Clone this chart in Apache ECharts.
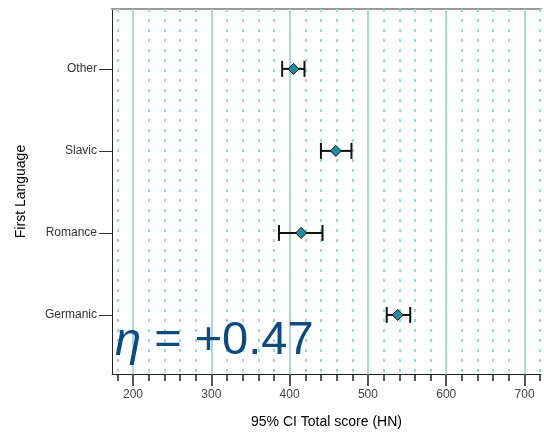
<!DOCTYPE html>
<html>
<head>
<meta charset="utf-8">
<script src="https://cdn.jsdelivr.net/npm/echarts@6/dist/echarts.min.js"></script>
<style>
  html, body { margin: 0; padding: 0; background: #fff; }
  #chart { width: 544px; height: 436px; }
</style>
</head>
<body>
<div id="chart"></div>
<script>
// Groups, bottom to top on the vertical axis
const categories = ['Germanic', 'Romance', 'Slavic', 'Other'];
// Mean total score and 95% confidence limits per group
const means = [538, 414.7, 459, 405];
const lower = [524, 386.4, 440, 390.5];
const upper = [554, 442, 479, 419];
// Axis ticks
const majorTicks = [200, 300, 400, 500, 600, 700];
const minorTicks = [180, 220, 240, 260, 280, 320, 340, 360, 380, 420, 440, 460, 480,
  520, 540, 560, 580, 620, 640, 660, 680, 720];
const effectLabel = '= +0.47';

const X_MIN = 173.2, X_MAX = 721;
const FONT = '"Liberation Sans", Arial, sans-serif';

const chart = echarts.init(document.getElementById('chart'), null, { renderer: 'canvas' });

const yIdx = categories.map((_, i) => i);

chart.setOption({
  animation: false,
  backgroundColor: '#ffffff',
  grid: { left: 112, right: 3, top: 9, bottom: 62, containLabel: false },
  xAxis: [
    {
      // major ticks, labels and solid grid lines
      type: 'value', min: X_MIN, max: X_MAX, position: 'bottom',
      name: '95% CI Total score (HN)', nameLocation: 'middle', nameGap: 41,
      nameTextStyle: { fontFamily: FONT, fontSize: 14, color: '#000' },
      axisLine: { show: true, onZero: false, lineStyle: { color: '#222', width: 1 } },
      axisTick: { show: true, customValues: majorTicks, length: 12, lineStyle: { color: '#555', width: 2 } },
      axisLabel: { customValues: majorTicks, margin: 15, fontFamily: FONT, fontSize: 12, color: '#444' },
      splitLine: { show: true, lineStyle: { color: '#abd7de', width: 2 } },
      z: 2
    },
    {
      // minor ticks and dashed grid lines
      type: 'value', min: X_MIN, max: X_MAX, position: 'bottom',
      axisLine: { show: false, onZero: false },
      axisTick: { show: true, customValues: minorTicks, length: 7, lineStyle: { color: '#555', width: 2 } },
      axisLabel: { show: false },
      splitLine: { show: true, lineStyle: { color: '#93dbdc', width: 2, type: [3, 7] } },
      z: 1
    },
    {
      // top frame line
      type: 'value', min: X_MIN, max: X_MAX, position: 'top',
      axisLine: { show: true, onZero: false, lineStyle: { color: '#999', width: 2 } },
      axisTick: { show: false }, axisLabel: { show: false }, splitLine: { show: false }
    }
  ],
  yAxis: {
    type: 'value', min: -0.72, max: 3.73,
    name: 'First Language', nameLocation: 'middle', nameGap: 84, nameRotate: 90,
    nameTextStyle: { fontFamily: FONT, fontSize: 14, color: '#000' },
    axisLine: { show: true, onZero: false, lineStyle: { color: '#222', width: 1 } },
    axisTick: { show: true, customValues: yIdx, length: 13, lineStyle: { color: '#333', width: 1 } },
    axisLabel: {
      customValues: yIdx, margin: 15, fontFamily: FONT, fontSize: 12, color: '#333',
      formatter: v => categories[Math.round(v)] || ''
    },
    splitLine: { show: false }
  },
  series: [
    {
      // confidence interval bars with end caps
      type: 'custom',
      xAxisIndex: 0,
      data: yIdx.map(i => [i, lower[i], upper[i]]),
      encode: { x: [1, 2], y: 0 },
      renderItem: (params, api) => {
        const y = api.value(0);
        const a = api.coord([api.value(1), y]);
        const b = api.coord([api.value(2), y]);
        const h = 8;
        const style = { stroke: '#111', lineWidth: 2 };
        return {
          type: 'group',
          children: [
            { type: 'line', shape: { x1: a[0], y1: a[1], x2: b[0], y2: b[1] }, style },
            { type: 'line', shape: { x1: a[0], y1: a[1] - h, x2: a[0], y2: a[1] + h }, style },
            { type: 'line', shape: { x1: b[0], y1: b[1] - h, x2: b[0], y2: b[1] + h }, style }
          ]
        };
      },
      z: 3
    },
    {
      // group means
      type: 'scatter',
      xAxisIndex: 0,
      data: yIdx.map(i => [means[i], i]),
      symbol: 'diamond',
      symbolSize: 11,
      itemStyle: { color: '#1f8ea3', borderColor: '#111', borderWidth: 1, opacity: 1 },
      z: 4
    }
  ],
  graphic: [
    {
      type: 'text', left: 115, top: 318, z: 10,
      style: {
        text: '{i|η} ' + effectLabel,
        font: '47px ' + FONT,
        fill: '#0e4a7e',
        rich: { i: { fontStyle: 'italic', fontSize: 47, fontFamily: FONT, fill: '#0e4a7e' } }
      }
    }
  ]
});
</script>
</body>
</html>
